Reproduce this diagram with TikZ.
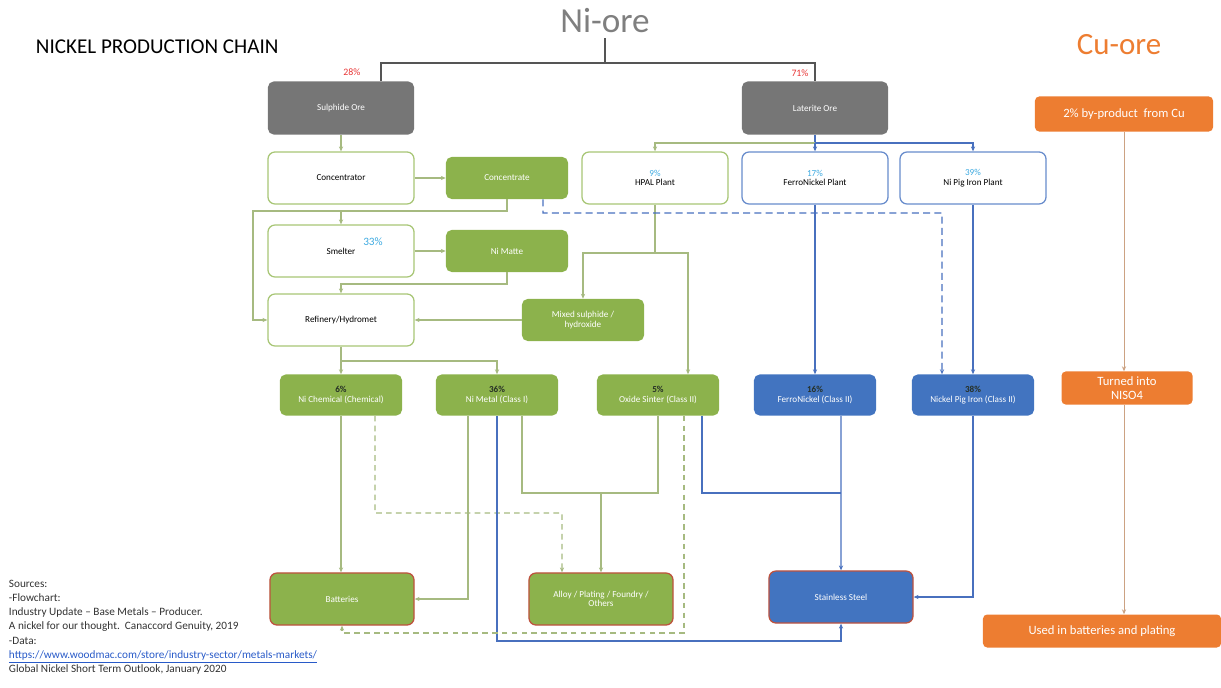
\documentclass[tikz,border=0pt]{standalone}
\usepackage{fontspec}
\setmainfont{Carlito}
\usetikzlibrary{arrows.meta}

\definecolor{oregray}{RGB}{118,118,118}
\definecolor{bracketgray}{RGB}{85,85,85}
\definecolor{nigray}{RGB}{127,127,127}
\definecolor{nigreen}{RGB}{140,178,76}
\definecolor{greenborder}{RGB}{168,198,118}
\definecolor{greenwire}{RGB}{166,186,128}
\definecolor{niblue}{RGB}{66,116,192}
\definecolor{blueborder}{RGB}{104,140,204}
\definecolor{bluewire}{RGB}{72,112,190}
\definecolor{endred}{RGB}{190,82,62}
\definecolor{cuorange}{RGB}{237,125,49}
\definecolor{cuwire}{RGB}{204,162,130}
\definecolor{pctblue}{RGB}{62,170,225}
\definecolor{pctred}{RGB}{232,52,52}
\definecolor{pctdark}{RGB}{38,48,38}
\definecolor{urlblue}{RGB}{40,90,200}
\definecolor{srcgray}{RGB}{50,50,50}

\begin{document}
\begin{tikzpicture}[x=0.025cm,y=-0.025cm,
    >={Stealth[length=3.5pt,width=3pt]},
    boxfont/.style={font=\fontsize{6.5}{6.8}\selectfont},
    ore/.style={boxfont, fill=oregray, text=white, rounded corners=4pt,
        minimum width=3.65cm, minimum height=1.325cm},
    wbox/.style={boxfont, draw=greenborder, line width=0.9pt, fill=white,
        rounded corners=5pt, align=center, minimum width=3.65cm, minimum height=1.3cm},
    bwbox/.style={wbox, draw=blueborder},
    gbox/.style={boxfont, fill=nigreen, text=white, rounded corners=4pt,
        align=center, minimum width=3.05cm, minimum height=1.05cm},
    prod/.style={gbox, minimum height=1.025cm},
    bprod/.style={prod, fill=niblue},
    endbox/.style={gbox, draw=endred, line width=0.9pt, rounded corners=5pt,
        minimum width=3.6cm, minimum height=1.3cm},
    bendbox/.style={endbox, fill=niblue},
    cubox/.style={fill=cuorange, text=white, rounded corners=3pt,
        font=\fontsize{9}{10}\selectfont, align=center},
    pct/.style={font=\fontsize{7}{8}\selectfont},
    gline/.style={draw=greenwire, line width=0.8pt},
    bline/.style={draw=bluewire, line width=0.8pt},
    gdash/.style={gline, dash pattern=on 4pt off 3pt},
    bdash/.style={bline, dash pattern=on 5pt off 3pt},
    culine/.style={draw=cuwire, line width=0.6pt}]

\useasboundingbox (0,0) rectangle (1221,688);

% headings
\node[anchor=west, font=\fontsize{15}{18}\selectfont] (title) at (31,47) {NICKEL PRODUCTION CHAIN};
\node[font=\fontsize{25}{30}\selectfont, text=nigray] (niore) at (605,21) {Ni-ore};
\node[font=\fontsize{22}{26}\selectfont, text=cuorange] (cuore) at (1119,45) {Cu-ore};

% ores
\node[ore] (sulph) at (341,108) {Sulphide Ore};
\node[ore] (lat) at (815,108) {Laterite Ore};
\node[pct, text=pctred] (p28) at (352,72) {28\%};
\node[pct, text=pctred] (p71) at (800,73) {71\%};

% plants
\node[wbox] (conc) at (341,178) {Concentrator};
\node[gbox] (concd) at (507,178) {Concentrate};
\node[wbox] (hpal) at (655,178) {\textcolor{pctblue}{9\%}\\HPAL Plant};
\node[bwbox] (fenp) at (815,178) {\textcolor{pctblue}{17\%}\\FerroNickel Plant};
\node[bwbox] (npip) at (973,178) {\textcolor{pctblue}{39\%}\\Ni Pig Iron Plant};

\node[wbox] (smelt) at (341,251) {Smelter};
\node[pct, text=pctblue, font=\fontsize{8}{9}\selectfont] (p33) at (373,242) {33\%};
\node[gbox] (matte) at (507,251) {Ni Matte};
\node[wbox] (refin) at (341,320) {Refinery/Hydromet};
\node[gbox] (mixed) at (583,320) {Mixed sulphide /\\hydroxide};

% products
\node[prod] (nichem) at (341,395) {\textcolor{pctdark}{\textbf{6\%}}\\Ni Chemical (Chemical)};
\node[prod] (nimet) at (497,395) {\textcolor{pctdark}{\textbf{36\%}}\\Ni Metal (Class I)};
\node[prod] (oxide) at (658,395) {\textcolor{pctdark}{\textbf{5\%}}\\Oxide Sinter (Class II)};
\node[bprod] (fen2) at (815,395) {\textcolor{pctdark}{\textbf{16\%}}\\FerroNickel (Class II)};
\node[bprod] (npi2) at (973,395) {\textcolor{pctdark}{\textbf{38\%}}\\Nickel Pig Iron (Class II)};

% end uses
\node[endbox] (batt) at (342,599) {Batteries};
\node[endbox] (alloy) at (601,599) {Alloy / Plating / Foundry /\\Others};
\node[bendbox] (stain) at (841,597) {Stainless Steel};

% copper side
\node[cubox, minimum width=4.45cm, minimum height=0.875cm] (cu1) at (1124,114) {2\% by-product\ \ from Cu};
\node[cubox, minimum width=3.275cm, minimum height=0.825cm, font=\fontsize{9}{9.5}\selectfont] (cu2) at (1127,388) {Turned into\\NISO4};
\node[cubox, minimum width=5.95cm, minimum height=0.825cm] (cu3) at (1102,631) {Used in batteries and plating};

% sources
\node[anchor=north west, align=left, text=srcgray, font=\fontsize{8}{10.1}\selectfont] (src) at (4,575)
    {Sources:\\-Flowchart:\\Industry Update -- Base Metals -- Producer.\\
     A nickel for our thought.\ \ Canaccord Genuity, 2019\\-Data:\\
     \textcolor{urlblue}{\underline{https://www.woodmac.com/store/industry-sector/metals-markets/}}\\
     Global Nickel Short Term Outlook, January 2020};

% ore split
\coordinate (split) at (605,63);
\draw[draw=bracketgray, line width=1.1pt] (niore.south) -- (split);
\draw[draw=bracketgray, line width=1.1pt] ([xshift=1cm]sulph.north) |- (split) -| (lat.north);

% sulphide route
\draw[gline,->] (sulph) -- (conc);
\draw[gline,->] (conc) -- (concd);
\coordinate (cj) at (253,211);
\draw[gline,->] (concd.south) |- (cj) |- (refin.west);
\draw[gline,->] (smelt.north |- cj) -- (smelt.north);
\draw[gline,->] (smelt) -- (matte);
\coordinate (mj) at (341,284);
\draw[gline,->] (matte.south) |- (mj) -- (refin.north);
\draw[gline,->] (mixed) -- (refin);

% laterite route
\coordinate (lj) at (815,143);
\draw[bline] (lat.south) -- (lj);
\draw[gline,->] (lj) -| (hpal.north);
\draw[bline,->] (lj) -- (fenp.north);
\draw[bline,->] (lj) -| (npip.north);
\coordinate (hj) at (655,253);
\draw[gline] (hpal.south) -- (hj);
\draw[gline,->] (hj) -| (mixed.north);
\draw[gline,->] (hj) -| ([xshift=0.75cm]oxide.north);
\coordinate (dj) at (942,213);
\draw[bdash,->] ([xshift=0.9cm]concd.south) |- (dj) -- ([xshift=-0.775cm]npi2.north);
\draw[bline,->] (fenp) -- (fen2);
\draw[bline,->] (npip) -- (npi2);

% refinery outputs
\coordinate (rj) at (341,361);
\draw[gline] (refin.south) -- (rj);
\draw[gline,->] (rj) -- (nichem.north);
\draw[gline,->] (rj) -| (nimet.north);

% products to end uses
\draw[gline,->] (nichem.south) -- (nichem.south |- batt.north);
\coordinate (cd) at (562,513);
\draw[gdash,->] ([xshift=0.85cm]nichem.south) |- (cd) -- ([xshift=-0.975cm]alloy.north);
\draw[gline,->] ([xshift=-0.725cm]nimet.south) |- (batt.east);
\coordinate (aj) at (601,493);
\draw[gline] ([xshift=0.625cm]nimet.south) |- (oxide.south |- aj) -- (oxide.south);
\draw[gline,->] (aj) -- (alloy.north);
\coordinate (bj) at (497,641);
\draw[bline,->] (nimet.south) -- (bj) -| (stain.south);
\coordinate (odj) at (342,633);
\draw[gdash,->] ([xshift=0.65cm]oxide.south) |- (odj) -- (batt.south);
\draw[bline] ([xshift=1.1cm]oxide.south) |- (stain.north |- aj);
\draw[bline,->] ([xshift=0.65cm]fen2.south) -- (stain.north);
\draw[bline,->] (npi2.south) |- (stain.east);

% copper chain
\draw[culine,->] (cu1.south) -- (cu1.south |- cu2.north);
\draw[culine,->] (cu1.south |- cu2.south) -- (cu1.south |- cu3.north);
\end{tikzpicture}
\end{document}
